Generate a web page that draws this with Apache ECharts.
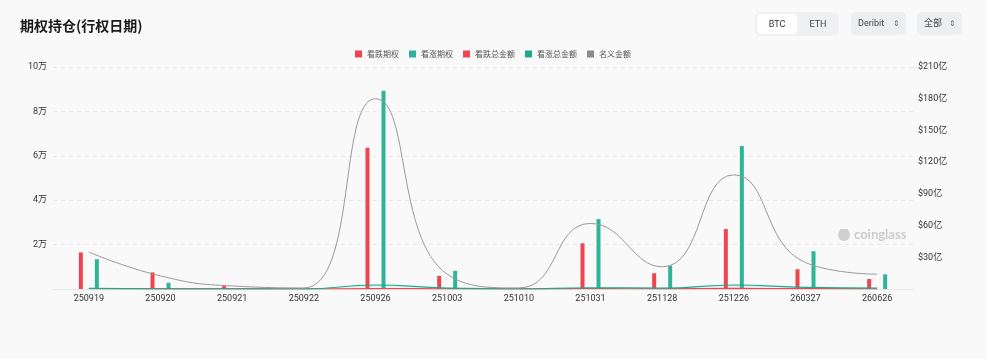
<!DOCTYPE html>
<html>
<head>
<meta charset="utf-8">
<script src="https://cdn.jsdelivr.net/npm/echarts@6/dist/echarts.min.js"></script>
<style>
html,body{margin:0;padding:0;background:#f9f9f9;}
#wrap{position:relative;width:986px;height:359px;background:#f9f9f9;font-family:Roboto,"Noto Sans CJK SC",sans-serif;}
#chart{position:absolute;left:0;top:0;width:986px;height:359px;}
.seg{position:absolute;left:755px;top:12px;width:84px;height:24px;background:#eef0f2;border-radius:5px;}
.seg .on{position:absolute;left:2px;top:2px;width:40px;height:20px;background:#fff;border-radius:4px;font-size:9px;color:#333;text-align:center;line-height:20px;}
.seg .off{position:absolute;left:44px;top:2px;width:38px;height:20px;font-size:9px;color:#444;text-align:center;line-height:20px;}
.sel{position:absolute;top:12px;height:23px;background:#eceef0;border-radius:5px;font-size:9px;color:#444;line-height:23px;padding-left:7px;box-sizing:border-box;}
.sel span{position:absolute;right:6px;top:0;font-size:8px;color:#666;}
</style>
</head>
<body>
<div id="wrap">
<div id="chart"></div>
<div class="seg"><div class="on">BTC</div><div class="off">ETH</div></div>
<div class="sel" style="left:851px;width:55px;">Deribit<span>&#8661;</span></div>
<div class="sel" style="left:917px;width:45px;">全部<span>&#8661;</span></div>
</div>
<script>
var categories = ['250919','250920','250921','250922','250926','251003','251010','251031','251128','251226','260327','260626'];
var putOI   = [16500, 7500, 1300, 200, 63600, 5900, 300, 20600, 7100, 27000, 8900, 4500];
var callOI  = [13400, 2800, 300, 200, 89300, 8200, 300, 31500, 10500, 64400, 17000, 6600];
// amounts in 亿 USD
var putAmount  = [0.3, 0.1, 0.05, 0.02, 0.4, 0.2, 0.05, 0.3, 0.2, 0.5, 0.3, 0.2];
var callAmount = [0.6, 0.2, 0.05, 0.03, 3.8, 0.8, 0.1, 1.2, 0.8, 3.8, 1.5, 0.8];
var notional   = [35, 12.4, 2.9, 1, 180, 14, 1, 62, 21, 108, 25, 14];
var leftTicks = {min: 0, max: 100000, interval: 20000};
var rightTicks = {min: 0, max: 210, interval: 30};

var RED = '#f0444f', GREEN = '#2fb498', GREEN2 = '#1fa88a', GRAY = '#8c8c8c';
var font = 'Roboto, "Noto Sans CJK SC", sans-serif';
var chart = echarts.init(document.getElementById('chart'), null, {renderer: 'canvas'});
chart.setOption({
  backgroundColor: '#f9f9f9',
  animation: false,
  title: {text: '期权持仓(行权日期)', left: 15, top: 14,
    textStyle: {fontSize: 14, fontWeight: 'bold', color: '#1a1a1a', fontFamily: '"Noto Sans CJK SC", sans-serif'}},
  legend: {top: 45, left: 'center', itemWidth: 7, itemHeight: 7, itemGap: 10, icon: 'rect',
    textStyle: {fontSize: 8, color: '#555', fontFamily: '"Noto Sans CJK SC", sans-serif'},
    data: ['看跌期权','看涨期权','看跌总金额','看涨总金额','名义金额']},
  grid: {left: 53, right: 73, top: 67, bottom: 70},
  xAxis: {type: 'category', data: categories,
    axisLine: {show: true, lineStyle: {color: '#e6e6e6'}}, axisTick: {show: false},
    axisLabel: {fontSize: 9, color: '#333', margin: 5, fontFamily: font}},
  yAxis: [
    {type: 'value', min: leftTicks.min, max: leftTicks.max, interval: leftTicks.interval,
      axisLabel: {fontSize: 9, color: '#333', showMinLabel: false, margin: 6, fontFamily: font,
        formatter: function(v){return v === 0 ? '' : (v/10000) + '万';}},
      splitLine: {lineStyle: {color: '#e8e8e8', type: [4,4]}}},
    {type: 'value', min: rightTicks.min, max: rightTicks.max, interval: rightTicks.interval,
      axisLabel: {fontSize: 9, color: '#333', showMinLabel: false, margin: 5, fontFamily: font,
        formatter: function(v){return v === 0 ? '' : '$' + v + '亿';}},
      splitLine: {show: false}}
  ],
  series: [
    {name: '看跌期权', type: 'bar', data: putOI, barWidth: 4, barGap: '300%', itemStyle: {color: RED}, yAxisIndex: 0},
    {name: '看涨期权', type: 'bar', data: callOI, barWidth: 4, barGap: '300%', itemStyle: {color: GREEN}, yAxisIndex: 0},
    {name: '看跌总金额', type: 'line', data: putAmount, yAxisIndex: 1, smooth: true, symbol: 'none',
      lineStyle: {width: 1.2, color: RED}, itemStyle: {color: RED},
      areaStyle: {color: new echarts.graphic.LinearGradient(0,0,0,1,[{offset:0,color:'rgba(240,68,79,0.25)'},{offset:1,color:'rgba(240,68,79,0)'}])}},
    {name: '看涨总金额', type: 'line', data: callAmount, yAxisIndex: 1, smooth: true, symbol: 'none',
      lineStyle: {width: 1.2, color: GREEN2}, itemStyle: {color: GREEN2},
      areaStyle: {color: new echarts.graphic.LinearGradient(0,0,0,1,[{offset:0,color:'rgba(31,168,138,0.25)'},{offset:1,color:'rgba(31,168,138,0)'}])}},
    {name: '名义金额', type: 'line', data: notional, yAxisIndex: 1, smooth: true, symbol: 'none',
      lineStyle: {width: 1, color: '#999'}, itemStyle: {color: GRAY}}
  ],
  graphic: [
    {type: 'group', left: 838, top: 228, silent: true, children: [
      {type: 'circle', shape: {cx: 7, cy: 7, r: 6}, style: {fill: '#cfcfcf'}},
      {type: 'rect', shape: {x: 3, y: 1, width: 8, height: 4}, style: {fill: '#cfcfcf'}},
      {type: 'text', left: 17, top: 0, style: {text: 'coinglass', fill: '#cccccc', font: 'bold 13px Lato, Roboto, sans-serif'}}
    ]}
  ]
});
</script>
</body>
</html>
